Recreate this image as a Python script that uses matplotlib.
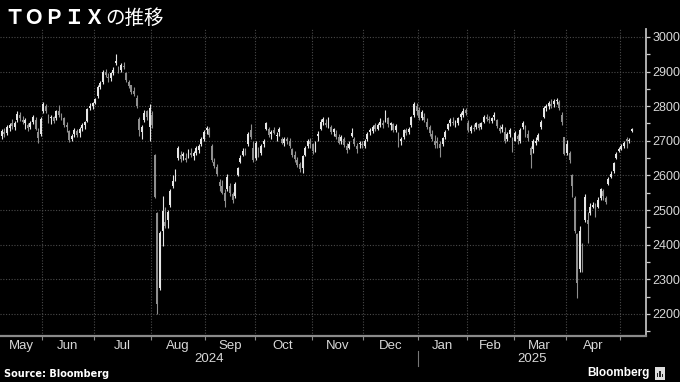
import numpy as np
import pandas as pd
import matplotlib.pyplot as plt
from matplotlib.lines import Line2D
from matplotlib.patches import Rectangle
from matplotlib.transforms import blended_transform_factory


# ----------------------------------------------------------------------
# Data: daily TOPIX candles, 10 May 2024 -> 9 May 2025 (TSE trading days)
# ----------------------------------------------------------------------
HOLIDAYS = ['2024-07-15', '2024-08-12', '2024-09-16', '2024-09-23', '2024-10-14',
            '2024-11-04', '2024-12-31', '2025-01-01', '2025-01-02', '2025-01-03',
            '2025-01-13', '2025-02-11', '2025-02-24', '2025-03-20', '2025-04-29',
            '2025-05-05', '2025-05-06']
dates = pd.bdate_range('2024-05-10', '2025-05-09', freq='C', holidays=HOLIDAYS)

opens = [
    2715, 2725, 2722, 2738, 2750, 2740, 2760, 2775, 2760, 2750, 2745, 2740, 2755, 2760, 2725, 2720,  # May
    2785, 2800, 2770, 2765, 2768, 2765, 2785, 2770, 2765, 2745, 2728, 2705, 2720, 2728, 2722, 2738,
    2745, 2758, 2795, 2800,  # Jun
    2810, 2828, 2855, 2870, 2900, 2885, 2882, 2895, 2925, 2912, 2905, 2915, 2895, 2870, 2860, 2845,
    2825, 2762, 2725, 2760, 2785, 2740,  # Jul
    2775, 2660, 2492, 2275, 2440, 2465, 2470, 2515, 2570, 2590, 2650, 2660, 2655, 2650, 2655, 2665,
    2655, 2665, 2672, 2690, 2705,  # Aug
    2730, 2735, 2685, 2640, 2625, 2580, 2570, 2550, 2560, 2570, 2545, 2540, 2600, 2640, 2660, 2670,
    2690, 2730, 2680,  # Sep
    2650, 2670, 2665, 2690, 2735, 2735, 2720, 2730, 2715, 2725, 2705, 2695, 2705, 2700, 2675, 2660,
    2645, 2632, 2620, 2660, 2685, 2700,  # Oct
    2690, 2672, 2715, 2735, 2755, 2750, 2750, 2740, 2725, 2720, 2710, 2700, 2705, 2685, 2680, 2715,
    2705, 2685, 2690, 2692,  # Nov
    2685, 2705, 2725, 2728, 2745, 2735, 2745, 2750, 2760, 2765, 2745, 2748, 2730, 2715, 2698, 2710,
    2732, 2725, 2745, 2775, 2800,  # Dec
    2790, 2765, 2770, 2755, 2740, 2720, 2700, 2700, 2690, 2690, 2710, 2735, 2750, 2755, 2748, 2750,
    2770, 2775, 2790,  # Jan
    2750, 2728, 2738, 2740, 2748, 2740, 2755, 2768, 2762, 2758, 2768, 2760, 2738, 2735, 2725, 2705,
    2720, 2705,  # Feb
    2700, 2715, 2700, 2740, 2740, 2720, 2680, 2675, 2695, 2702, 2740, 2768, 2795, 2800, 2805, 2805,
    2815, 2812, 2775, 2710,  # Mar
    2665, 2665, 2600, 2535, 2430, 2330, 2400, 2470, 2470, 2490, 2510, 2505, 2510, 2535, 2555, 2535,
    2575, 2595, 2612, 2650, 2670,  # Apr
    2675, 2685, 2705, 2700, 2728,  # May
]
highs = [
    2735, 2738, 2745, 2750, 2762, 2758, 2785, 2783, 2772, 2765, 2752, 2758, 2775, 2768, 2738, 2768,
    2812, 2805, 2778, 2775, 2772, 2790, 2803, 2780, 2770, 2755, 2732, 2720, 2738, 2735, 2740, 2752,
    2758, 2795, 2808, 2812,
    2825, 2860, 2872, 2905, 2908, 2895, 2898, 2912, 2950, 2915, 2925, 2928, 2900, 2875, 2862, 2855,
    2832, 2768, 2745, 2788, 2790, 2805,
    2785, 2662, 2495, 2440, 2540, 2510, 2500, 2560, 2600, 2618, 2685, 2670, 2668, 2665, 2675, 2678,
    2670, 2685, 2690, 2712, 2730,
    2742, 2740, 2690, 2650, 2632, 2590, 2588, 2560, 2605, 2578, 2552, 2580, 2625, 2660, 2678, 2680,
    2725, 2748, 2700,
    2700, 2682, 2690, 2705, 2755, 2740, 2730, 2740, 2725, 2740, 2712, 2710, 2712, 2708, 2680, 2670,
    2652, 2640, 2660, 2685, 2705, 2708,
    2695, 2700, 2728, 2762, 2770, 2762, 2768, 2745, 2738, 2730, 2720, 2718, 2712, 2695, 2698, 2737,
    2712, 2695, 2700, 2700,
    2705, 2725, 2738, 2745, 2752, 2750, 2765, 2760, 2790, 2770, 2755, 2752, 2748, 2725, 2712, 2735,
    2738, 2740, 2772, 2812, 2810,
    2798, 2790, 2780, 2766, 2745, 2730, 2718, 2712, 2698, 2712, 2730, 2752, 2765, 2768, 2760, 2770,
    2782, 2795, 2795,
    2760, 2745, 2748, 2755, 2752, 2755, 2775, 2778, 2772, 2768, 2782, 2762, 2745, 2748, 2740, 2725,
    2737, 2710,
    2728, 2720, 2738, 2758, 2745, 2732, 2685, 2705, 2710, 2722, 2760, 2800, 2805, 2815, 2820, 2822,
    2825, 2818, 2783, 2712,
    2703, 2670, 2605, 2540, 2435, 2455, 2405, 2545, 2495, 2520, 2523, 2520, 2538, 2564, 2560, 2540,
    2595, 2612, 2640, 2668, 2682,
    2690, 2698, 2710, 2708, 2738,
]
lows = [
    2705, 2712, 2718, 2728, 2735, 2730, 2755, 2758, 2748, 2735, 2728, 2735, 2748, 2730, 2695, 2715,
    2780, 2780, 2752, 2748, 2752, 2760, 2770, 2760, 2740, 2725, 2697, 2700, 2712, 2710, 2712, 2728,
    2735, 2755, 2788, 2792,
    2805, 2825, 2850, 2865, 2885, 2870, 2872, 2890, 2920, 2895, 2900, 2908, 2870, 2852, 2835, 2830,
    2795, 2715, 2705, 2755, 2760, 2700,
    2738, 2535, 2200, 2268, 2395, 2448, 2448, 2508, 2565, 2585, 2645, 2638, 2645, 2640, 2650, 2652,
    2645, 2660, 2665, 2685, 2700,
    2720, 2712, 2640, 2620, 2598, 2555, 2545, 2510, 2555, 2540, 2520, 2535, 2598, 2635, 2655, 2660,
    2685, 2705, 2640,
    2645, 2652, 2660, 2682, 2730, 2712, 2705, 2720, 2700, 2715, 2690, 2685, 2690, 2680, 2652, 2640,
    2625, 2610, 2607, 2655, 2680, 2680,
    2662, 2668, 2700, 2730, 2745, 2740, 2738, 2720, 2715, 2705, 2690, 2692, 2682, 2665, 2675, 2710,
    2685, 2665, 2680, 2680,
    2680, 2700, 2718, 2722, 2728, 2730, 2740, 2738, 2755, 2740, 2730, 2725, 2725, 2683, 2688, 2705,
    2718, 2720, 2740, 2770, 2775,
    2760, 2760, 2755, 2735, 2715, 2700, 2680, 2680, 2653, 2685, 2705, 2730, 2742, 2745, 2740, 2745,
    2760, 2770, 2775,
    2725, 2722, 2728, 2735, 2730, 2735, 2750, 2758, 2752, 2750, 2760, 2738, 2722, 2725, 2694, 2700,
    2712, 2668,
    2698, 2690, 2695, 2735, 2712, 2700, 2622, 2665, 2688, 2698, 2735, 2765, 2785, 2792, 2795, 2798,
    2805, 2790, 2745, 2658,
    2660, 2636, 2538, 2435, 2245, 2320, 2320, 2465, 2405, 2486, 2505, 2480, 2506, 2530, 2530, 2518,
    2572, 2592, 2608, 2648, 2668,
    2672, 2680, 2678, 2695, 2725,
]
closes = [
    2728, 2720, 2740, 2745, 2742, 2752, 2778, 2765, 2755, 2760, 2738, 2752, 2770, 2735, 2708, 2762,
    2805, 2785, 2760, 2770, 2758, 2785, 2775, 2768, 2745, 2740, 2702, 2715, 2730, 2718, 2735, 2745,
    2755, 2792, 2800, 2808,
    2820, 2855, 2868, 2900, 2890, 2880, 2895, 2905, 2930, 2898, 2920, 2912, 2875, 2858, 2840, 2835,
    2800, 2730, 2740, 2780, 2768, 2795,
    2745, 2538, 2228, 2434, 2498, 2455, 2495, 2555, 2585, 2612, 2680, 2648, 2662, 2645, 2670, 2660,
    2665, 2680, 2685, 2705, 2725,
    2738, 2718, 2645, 2628, 2605, 2570, 2550, 2525, 2595, 2548, 2530, 2575, 2620, 2650, 2670, 2668,
    2720, 2712, 2645,
    2695, 2658, 2685, 2700, 2750, 2718, 2725, 2722, 2718, 2735, 2695, 2705, 2698, 2685, 2658, 2648,
    2630, 2618, 2655, 2680, 2700, 2690,
    2670, 2695, 2720, 2755, 2762, 2745, 2760, 2725, 2735, 2710, 2695, 2712, 2688, 2672, 2692, 2722,
    2690, 2675, 2695, 2688,
    2700, 2720, 2732, 2740, 2735, 2745, 2755, 2745, 2770, 2748, 2750, 2732, 2742, 2700, 2705, 2730,
    2722, 2735, 2768, 2805, 2785,
    2765, 2782, 2760, 2740, 2722, 2705, 2688, 2695, 2680, 2708, 2725, 2748, 2760, 2752, 2755, 2765,
    2778, 2785, 2780,
    2730, 2740, 2735, 2750, 2738, 2750, 2770, 2762, 2760, 2765, 2775, 2742, 2728, 2740, 2700, 2720,
    2730, 2680,
    2722, 2705, 2730, 2752, 2718, 2708, 2660, 2698, 2700, 2718, 2755, 2795, 2800, 2810, 2800, 2815,
    2818, 2795, 2755, 2662,
    2690, 2645, 2568, 2440, 2290, 2440, 2350, 2539, 2460, 2510, 2515, 2488, 2530, 2560, 2540, 2522,
    2590, 2605, 2635, 2662, 2676,
    2685, 2695, 2700, 2703, 2735,
]

MONTH_NAMES = ['Jan', 'Feb', 'Mar', 'Apr', 'May', 'Jun', 'Jul', 'Aug', 'Sep', 'Oct', 'Nov', 'Dec']
Y_MAJOR = [2200, 2300, 2400, 2500, 2600, 2700, 2800, 2900, 3000]
Y_MINOR = [2150, 2250, 2350, 2450, 2550, 2650, 2750, 2850, 2950]

TITLE_EN = 'ＴＯＰＩＸ'
TITLE_JA = 'の推移'

# ----------------------------------------------------------------------
W, H = 680, 382
UP_COLOR = '#e6e6e6'
DOWN_COLOR = '#8f8f8f'
GRID_COLOR = '#4a4a4a'
TEXT_COLOR = '#d8d8d8'
TICK_FONT = 'Liberation Sans'

o = np.array(opens, float)
h = np.array(highs, float)
l = np.array(lows, float)
c = np.array(closes, float)
assert len(dates) == len(c)
x = np.arange(len(c))

fig = plt.figure(figsize=(W / 100, H / 100), dpi=100, facecolor='black')
ax = fig.add_axes([0, 1 - 336 / H, 646 / W, (336 - 29) / H])
ax.set_facecolor('black')

colors = np.where(c >= o, UP_COLOR, DOWN_COLOR)
ax.vlines(x, l, h, colors=colors, linewidth=0.8, zorder=3)
ax.bar(x, np.maximum(np.abs(c - o), 2.5), bottom=np.minimum(o, c), width=0.72,
       color=colors, linewidth=0, zorder=4)

ax.set_xlim(-0.7, 248.5)
ax.set_ylim(2136, 3023)

# month boundaries -> vertical grid lines and tick marks
months = dates.to_period('M')
starts = [i for i in range(1, len(dates)) if months[i] != months[i - 1]]
bounds = [i - 0.5 for i in starts]
ax.set_xticks(bounds)
ax.set_xticklabels([])
ax.tick_params(axis='x', direction='out', length=3, width=0.8, color='#888888')

ax.yaxis.tick_right()
ax.set_yticks(Y_MAJOR)
ax.set_yticks(Y_MINOR, minor=True)
ax.set_yticklabels([str(v) for v in Y_MAJOR])
ax.tick_params(axis='y', which='both', direction='out', length=3, width=0.9,
               color='#cccccc', labelcolor=TEXT_COLOR, labelsize=9, pad=1.5)
for lab in ax.get_yticklabels():
    lab.set_fontfamily(TICK_FONT)

ax.grid(True, which='major', color=GRID_COLOR, linestyle=(0, (1, 1.5)), linewidth=0.8)
ax.set_axisbelow(True)

for side in ['top', 'left']:
    ax.spines[side].set_visible(False)
ax.spines['right'].set_color('#bdbdbd')
ax.spines['right'].set_linewidth(1.3)
ax.spines['bottom'].set_color('#8a8a8a')
ax.spines['bottom'].set_linewidth(1.6)

# month labels centred in each visible month span
xmin, xmax = ax.get_xlim()
edges = [xmin] + bounds + [xmax]
trans = blended_transform_factory(ax.transData, fig.transFigure)
for k in range(len(edges) - 2):
    m = months[0 if k == 0 else starts[k - 1]]
    ax.text((edges[k] + edges[k + 1]) / 2, 1 - 346 / H, MONTH_NAMES[m.month - 1],
            transform=trans, ha='center', va='center', color=TEXT_COLOR,
            fontsize=9.5, fontfamily=TICK_FONT)

# year labels and separator
jan = [b for b, s in zip(bounds, starts) if dates[s].month == 1][0]
ax.text((xmin + jan) / 2, 1 - 359 / H, '2024', transform=trans, ha='center', va='center',
        color=TEXT_COLOR, fontsize=9.5, fontfamily=TICK_FONT)
ax.text((jan + xmax) / 2, 1 - 359 / H, '2025', transform=trans, ha='center', va='center',
        color=TEXT_COLOR, fontsize=9.5, fontfamily=TICK_FONT)
ax.add_line(Line2D([jan, jan], [1 - 351 / H, 1 - 366 / H], transform=trans,
                   color='#777777', linewidth=0.8, clip_on=False))

# titles and footer
fig.text(4 / W, 1 - 18 / H, TITLE_EN, color='white', fontsize=14.5, fontweight='bold',
         fontfamily='Noto Sans CJK JP', va='center', ha='left')
fig.text(105 / W, 1 - 18 / H, TITLE_JA, color='white', fontsize=14,
         fontfamily='Noto Sans CJK JP', va='center', ha='left')
fig.text(4 / W, 1 - 374 / H, 'Source: Bloomberg', color='white', fontsize=7,
         fontweight='bold', va='center', ha='left')
fig.text(650 / W, 1 - 373 / H, 'Bloomberg', color='white', fontsize=8.5,
         fontweight='bold', fontfamily='Liberation Sans', va='center', ha='right')

# little logo box
fig.patches.append(Rectangle((655 / W, 1 - 380 / H), 10 / W, 13 / H, transform=fig.transFigure,
                             facecolor='#dddddd', edgecolor='none'))
for dx, bh in [(1.5, 4), (4.0, 6), (6.5, 3)]:
    fig.patches.append(Rectangle(((655 + dx + 0.3) / W, 1 - 377 / H), 1.5 / W, bh / H,
                                 transform=fig.transFigure, facecolor='#222222', edgecolor='none'))

fig.savefig('out.png', dpi=100, facecolor='black')
